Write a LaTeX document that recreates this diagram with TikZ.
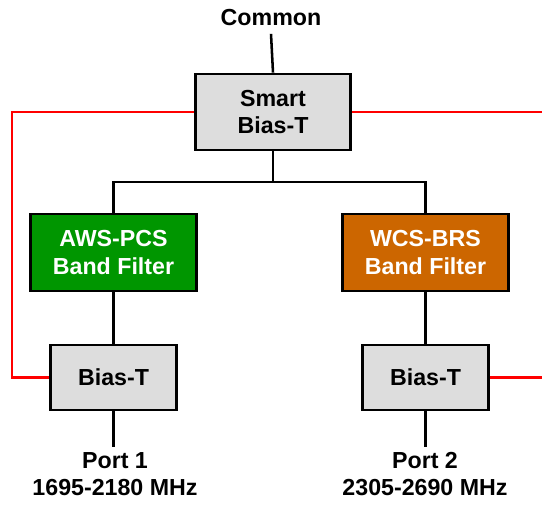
\documentclass[tikz,border=0pt]{standalone}
\usepackage{fontspec}
\setmainfont{Liberation Sans}
\usepackage{xcolor}
\usetikzlibrary{positioning}
\definecolor{biasgray}{RGB}{221,221,221}
\definecolor{filtergreen}{RGB}{0,150,0}
\definecolor{filterorange}{RGB}{204,102,0}
\definecolor{dcred}{RGB}{255,0,0}
\tikzset{
    blocktext/.style={font=\fontsize{17.4}{20.8}\selectfont\bfseries, align=center},
    biasbox/.style={blocktext, rectangle, draw=black, line width=2.1pt, fill=biasgray, inner sep=0pt},
    filterbox/.style={blocktext, rectangle, draw=black, line width=2.1pt, text=white, inner sep=0pt,
        minimum width=125pt, minimum height=57.75pt},
    rfline/.style={draw=black, line width=1.9pt},
    dcline/.style={draw=dcred, line width=1.6pt}
}

\begin{document}
\begin{tikzpicture}[x=0.75pt, y=-0.75pt]
    \useasboundingbox (0,0) rectangle (542,504);
    % blocks
    \node[blocktext] (common) at (271,18) {Common};
    \node[biasbox, minimum width=116.25pt, minimum height=57pt] (smart) at (273,112) {Smart\\Bias-T};
    \node[filterbox, fill=filtergreen] (aws) at (113.5,252.5) {AWS-PCS\\Band Filter};
    \node[filterbox, fill=filterorange] (wcs) at (425.5,252.5) {WCS-BRS\\Band Filter};
    \node[biasbox, minimum width=94.5pt, minimum height=48.75pt] (biasL) at (113.5,377.5) {Bias-T};
    \node[biasbox, minimum width=94.5pt, minimum height=48.75pt] (biasR) at (425.5,377.5) {Bias-T};
    \node[blocktext] (port1) at (115,474) {Port 1\\1695-2180 MHz};
    \node[blocktext] (port2) at (425,474) {Port 2\\2305-2690 MHz};
    % helper points
    \coordinate (split) at (273,182);
    \coordinate (railL) at (12,245);
    \coordinate (railR) at (542,245);
    % rf path
    \draw[rfline] (common.south) ++(0,3) -- (smart.north);
    \draw[rfline] (smart.south) -- (split);
    \draw[rfline] (aws.north) |- (split) -| (wcs.north);
    \draw[rfline] (aws.south) -- (biasL.north);
    \draw[rfline] (wcs.south) -- (biasR.north);
    \draw[rfline] (biasL.south) -- (biasL.south |- port1.north);
    \draw[rfline] (biasR.south) -- (biasR.south |- port2.north);
    % dc feed
    \draw[dcline] (smart.west) -| (railL) |- (biasL.west);
    \draw[dcline] (smart.east) -- (smart.east -| railR);
    \draw[dcline] (biasR.east) -- (biasR.east -| railR);
\end{tikzpicture}
\end{document}
